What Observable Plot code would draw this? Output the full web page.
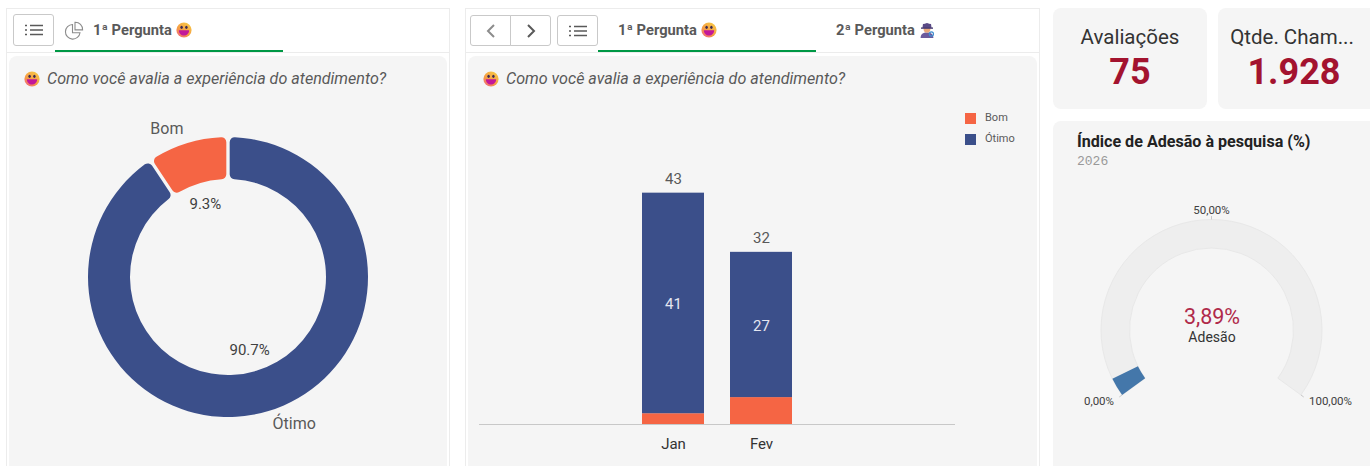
<!DOCTYPE html>
<html lang="pt-BR">
<head>
<meta charset="utf-8">
<title>Pesquisa de satisfação</title>
<script src="https://cdn.jsdelivr.net/npm/d3@7"></script>
<script src="https://cdn.jsdelivr.net/npm/@observablehq/plot@0.6"></script>
<style>
  html, body { margin: 0; padding: 0; background: #fff; }
  body { position: relative; width: 1370px; height: 466px; overflow: hidden; font-family: Roboto, sans-serif; }
  .abs { position: absolute; box-sizing: border-box; }
  .panel { border: 1px solid #ececec; border-bottom: none; top: 8px; height: 458px; }
  .rule { height: 1px; background: #ececec; top: 52px; }
  .card { background: #f5f5f5; border-radius: 8px; }
  .btn { border: 1px solid #c9c9c9; border-radius: 3px; background: #fff; display: flex; align-items: center; justify-content: center; }
  .green { background: #009845; height: 2px; top: 50px; }
  .tab { font-weight: 700; font-size: 14.7px; color: #595959; top: 21px; line-height: 18px; white-space: nowrap; display: flex; align-items: center; }
  .tab svg { margin-left: 4px; }
  .q { font-style: italic; font-size: 16.1px; color: #595959; top: 70px; line-height: 18px; white-space: nowrap; }
  .kpiLabel { font-size: 20.5px; color: #333; text-align: center; line-height: 24px; top: 25px; white-space: nowrap; }
  .kpiValue { font-size: 36px; font-weight: 700; color: #a3132f; text-align: center; line-height: 42px; top: 51px; white-space: nowrap; }
  .chart svg { display: block; background: transparent; overflow: visible; }
  .legendBox [class$="-swatch"] { padding-bottom: 7px !important; line-height: 14px; }
  .legendBox [class$="-swatch"] svg { margin-right: 9px !important; }
</style>
</head>
<body>
<script>
// ---- data ----
const pieLabels = ["Ótimo", "Bom"];
const pieValues = [68, 7];
const months = ["Jan", "Fev"];
const bomByMonth = [2, 5];
const otimoByMonth = [41, 27];
const legendLabels = ["Bom", "Ótimo"];
const seriesColors = ["#f56544", "#3b4f8a"];
const adesaoValue = 3.89;
const adesaoTicks = [0, 50, 100];
const kpiLabels = ["Avaliações", "Qtde. Cham..."];
const kpiValues = ["75", "1.928"];
const question = "Como você avalia a experiência do atendimento?";
const tab1 = "1ª Pergunta";
const tab2 = "2ª Pergunta";

// ---- small helpers ----
const br = v => String(v.toFixed(2)).replace(".", ",") + "%";
const emojiId = (() => { let i = 0; return () => "e" + (++i); })();
function smile(s) {
  const id = emojiId();
  return `<svg width="${s}" height="${s}" viewBox="0 0 20 20" style="flex:none"><defs><linearGradient id="${id}" x1="0.8" y1="0" x2="0.1" y2="1"><stop offset="0" stop-color="#f7c945"/><stop offset="0.6" stop-color="#f59a45"/><stop offset="1" stop-color="#ef5f86"/></linearGradient></defs><circle cx="10" cy="10" r="9.5" fill="url(#${id})"/><ellipse cx="7" cy="6.6" rx="1.5" ry="2" fill="#3d2a52"/><ellipse cx="13" cy="6.6" rx="1.5" ry="2" fill="#3d2a52"/><path d="M3.6 10.2h12.8c0 4-2.8 6.6-6.4 6.6s-6.4-2.6-6.4-6.6z" fill="#c2189a"/></svg>`;
}
function detective(s) {
  return `<svg width="${s}" height="${s}" viewBox="0 0 20 20" style="flex:none"><path d="M2 20c0-5 3-7 8-7s8 2 8 7z" fill="#6b5a9c"/><circle cx="10" cy="9" r="4.2" fill="#e9a77a"/><path d="M5 2.2c2 .8 3.4-.9 5-.9s3 1.7 5 .9l.7 5.3H4.300z" fill="#5a4a86"/><rect x="2.5" y="6.800" width="15" height="1.700" fill="#463a70"/><circle cx="15.500" cy="15" r="2.600" fill="none" stroke="#3f8ed0" stroke-width="1.400"/></svg>`;
}
const listIcon = `<svg width="18" height="12" viewBox="0 0 18 12" stroke="#595959" stroke-width="1.500" fill="none"><path d="M0 1.500h2M5 1.500h13M0 6h2M5 6h13M0 10.500h2M5 10.500h13"/></svg>`;
const pieIcon = `<svg width="20" height="20" viewBox="0 0 20 20" fill="none" stroke="#8c8c8c" stroke-width="1.100"><path d="M8.500 3.500a7.300 7.300 0 1 0 7.500 8.200H8.500z"/><path d="M11 1.200a7.300 7.300 0 0 1 7.600 7.700H11z"/></svg>`;
const chevL = `<svg width="10" height="16" viewBox="0 0 10 16" fill="none" stroke="#8c8c8c" stroke-width="2"><path d="M8 2L2 8l6 6"/></svg>`;
const chevR = `<svg width="10" height="16" viewBox="0 0 10 16" fill="none" stroke="#595959" stroke-width="2"><path d="M2 2l6 6-6 6"/></svg>`;

function box(cls, style, html = "") {
  const d = document.createElement("div");
  d.className = "abs " + cls;
  d.style.cssText = style;
  d.innerHTML = html;
  document.body.appendChild(d);
  return d;
}

// ---- page furniture ----
box("panel", "left:6px;width:444px");
box("rule", "left:7px;width:442px");
box("card", "left:9px;top:56px;width:438px;height:420px");
box("btn", "left:13px;top:14px;width:41px;height:32px", listIcon);
box("", "left:64px;top:21px", pieIcon);
box("green", "left:55px;width:228px");
box("tab", "left:93px", tab1 + smile(16));
box("", "left:24px;top:71px", smile(16));
box("q", "left:47px", question);

box("panel", "left:465px;width:575px");
box("rule", "left:466px;width:573px");
box("card", "left:468px;top:56px;width:569px;height:420px");
box("btn", "left:470px;top:15px;width:41px;height:31px;border-radius:3px 0 0 3px", chevL);
box("btn", "left:510px;top:15px;width:41px;height:31px;border-radius:0 3px 3px 0", chevR);
box("btn", "left:557px;top:15px;width:41px;height:31px", listIcon);
box("green", "left:598px;width:218px");
box("tab", "left:618px", tab1 + smile(16));
box("tab", "left:836px", tab2 + detective(16));
box("", "left:483px;top:71px", smile(16));
box("q", "left:506px", question);

box("card", "left:1053px;top:8px;width:154px;height:101px");
box("card", "left:1218px;top:8px;width:160px;height:101px");
box("kpiLabel", "left:1053px;width:154px", kpiLabels[0]);
box("kpiLabel", "left:1218px;width:148px", kpiLabels[1]);
box("kpiValue", "left:1053px;width:154px", kpiValues[0]);
box("kpiValue", "left:1218px;width:152px", kpiValues[1]);
box("card", "left:1053px;top:121px;width:325px;height:355px");
box("", "left:1077px;top:132px;font-size:16.1px;font-weight:700;color:#222;line-height:20px;white-space:nowrap", "Índice de Adesão à pesquisa (%)");
box("", "left:1077px;top:154px;font-size:13px;font-family:'Liberation Mono',monospace;color:#999;line-height:16px", "2026");

// ---- arc renderer: turns a stacked bar's scaled x1/x2 (radians) into ring sectors ----
function ring({cx, cy, r0, r1, corner = 0, pad = 0, color = "#eeeeee", stroke = null, decorate = null}) {
  return (index, scales, values) => {
    const g = d3.create("svg:g");
    const arc = d3.arc().innerRadius(r0).outerRadius(r1).cornerRadius(corner).padAngle(pad).padRadius(r1);
    for (const i of index) {
      g.append("path")
        .attr("transform", `translate(${cx},${cy})`)
        .attr("d", arc({startAngle: values.x1[i], endAngle: values.x2[i]}))
        .attr("fill", values.fill ? values.fill[i] : color)
        .attr("stroke", stroke);
    }
    if (decorate) decorate(g, index, values);
    return g.node();
  };
}
const polar = (cx, cy, r, a) => [cx + r * Math.sin(a), cy - r * Math.cos(a)];
function label(g, x, y, text, size, fill, anchor = "middle") {
  g.append("text").attr("x", x).attr("y", y).attr("text-anchor", anchor)
    .attr("dominant-baseline", "central").attr("font-family", "Roboto, sans-serif")
    .attr("font-size", size).attr("fill", fill).text(text);
}

// ---- donut ----
const pieTotal = d3.sum(pieValues);
const pieRows = pieLabels.map((label, i) => ({label, value: pieValues[i]}));
const dW = 436, dH = 370, dcx = 218, dcy = 181;
const donut = Plot.plot({
  width: dW, height: dH, margin: 0,
  x: {domain: [0, pieTotal], range: [0, 2 * Math.PI], axis: null},
  y: {axis: null},
  color: {domain: legendLabels, range: seriesColors},
  style: {background: "transparent", overflow: "visible"},
  marks: [
    Plot.barX(pieRows, Plot.stackX({
      x: "value", fill: "label",
      render: ring({
        cx: dcx, cy: dcy, r0: 98, r1: 140, corner: 5, pad: 0.024,
        decorate(g, index, values) {
          for (const i of index) {
            const mid = (values.x1[i] + values.x2[i]) / 2;
            const [px, py] = polar(dcx, dcy, 76.5, mid);
            label(g, px - 0.5, py, (pieRows[i].value / pieTotal * 100).toFixed(1) + "%", 15, "#404040");
            const [lx, ly] = polar(dcx, dcy, 154, mid);
            label(g, lx, ly - 1, pieRows[i].label, 16, "#595959", Math.sin(mid) < 0 ? "end" : "start");
          }
        }
      })
    }))
  ]
});
box("chart", "left:10px;top:96px").appendChild(donut);

// ---- stacked bars ----
const barRows = months.flatMap((m, i) => [
  {month: m, series: "Bom", value: bomByMonth[i]},
  {month: m, series: "Ótimo", value: otimoByMonth[i]}
]);
const totals = months.map((m, i) => ({month: m, total: bomByMonth[i] + otimoByMonth[i]}));
const bars = Plot.plot({
  width: 572, height: 366,
  marginLeft: 13, marginRight: 83, marginTop: 55, marginBottom: 42,
  x: {domain: months, paddingInner: 0.295, paddingOuter: 1.852, label: null},
  y: {domain: [0, 50], axis: null},
  color: {domain: legendLabels, range: seriesColors},
  style: {background: "transparent", overflow: "visible", fontFamily: "Roboto, sans-serif"},
  marks: [
    Plot.axisX({tickSize: 0, tickPadding: 14, fontSize: 15, color: "#333", label: null}),
    Plot.barY(barRows, Plot.stackY({x: "month", y: "value", fill: "series", order: null})),
    Plot.ruleY([0], {stroke: "#c8c8c8"}),
    Plot.text(barRows, Plot.stackY({
      x: "month", y: "value", z: "series", order: null,
      text: d => d.series === "Ótimo" ? String(d.value) : "",
      fill: "#e4e6f0", fontSize: 15, dy: 1
    })),
    Plot.text(totals, {x: "month", y: "total", text: d => String(d.total), dy: -14, fill: "#595959", fontSize: 15})
  ]
});
box("chart", "left:466px;top:100px").appendChild(bars);

const legend = Plot.legend({
  color: {domain: legendLabels, range: seriesColors},
  columns: 1, swatchSize: 11,
  style: {fontFamily: "Roboto, sans-serif", fontSize: "11px", color: "#595959", background: "transparent", margin: 0}
});
box("chart legendBox", "left:965px;top:111px;width:70px").appendChild(legend);

// ---- gauge ----
const gcx = 158.5, gcy = 160;
const gaugeMin = adesaoTicks[0], gaugeMax = adesaoTicks[adesaoTicks.length - 1];
const gaugeSpan = 126 * Math.PI / 180;
const gauge = Plot.plot({
  width: 317, height: 296, margin: 0,
  x: {domain: [gaugeMin, gaugeMax], range: [-gaugeSpan, gaugeSpan], axis: null},
  y: {axis: null},
  style: {background: "transparent", overflow: "visible"},
  marks: [
    Plot.barX([{v: gaugeMax}], {
      x1: () => gaugeMin, x2: "v",
      render: ring({cx: gcx, cy: gcy, r0: 82, r1: 110.5, stroke: "#e8e8e8"})
    }),
    Plot.barX([{v: adesaoValue}], {
      x1: () => gaugeMin, x2: "v",
      render: ring({cx: gcx, cy: gcy, r0: 82, r1: 110.5, color: "#4477aa"})
    }),
    Plot.tickX(adesaoTicks, {
      x: d => d,
      render: (index, scales, values) => {
        const g = d3.create("svg:g");
        for (const i of index) {
          const a = values.x[i];
          const [x1, y1] = polar(gcx, gcy, 110.5, a);
          const [x2, y2] = polar(gcx, gcy, 114, a);
          g.append("line").attr("x1", x1).attr("y1", y1).attr("x2", x2).attr("y2", y2).attr("stroke", "#c8c8c8");
          const [lx, ly] = polar(gcx, gcy, 120.5, a);
          const s = Math.sin(a);
          label(g, lx, ly, br(adesaoTicks[i]), 11.5, "#404040", s < -0.1 ? "end" : s > 0.1 ? "start" : "middle");
        }
        return g.node();
      }
    })
  ]
});
box("chart", "left:1053px;top:170px").appendChild(gauge);
box("", "left:1132px;width:160px;top:304px;text-align:center;font-size:21.5px;color:#b02a4a;line-height:26px", br(adesaoValue));
box("", "left:1132px;width:160px;top:328px;text-align:center;font-size:14px;color:#333;line-height:18px", "Adesão");
</script>
</body>
</html>
